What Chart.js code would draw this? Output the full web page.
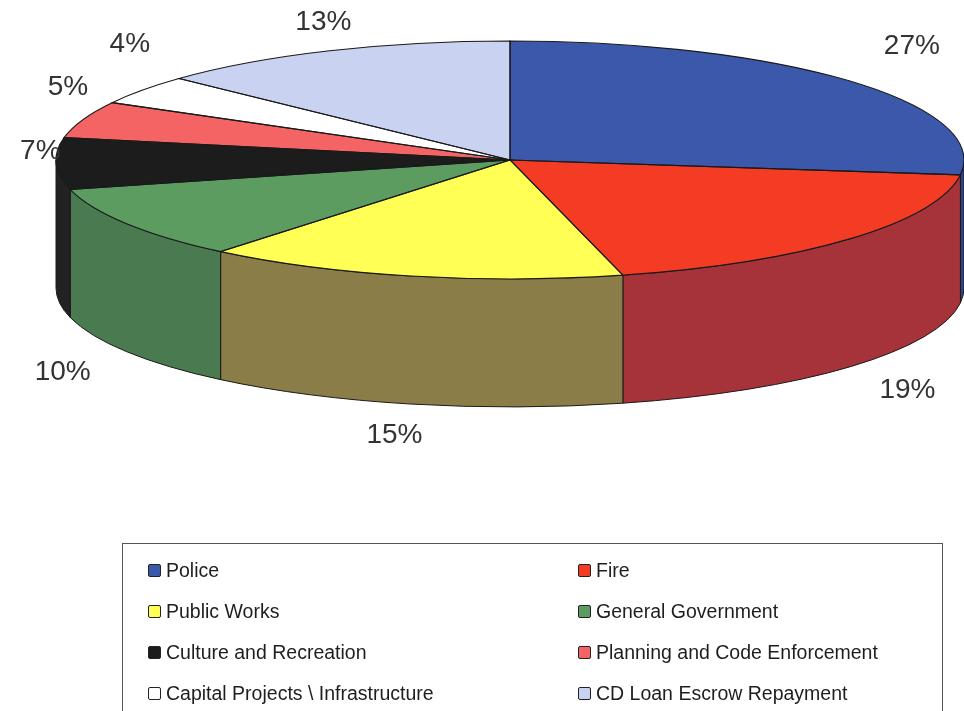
<!DOCTYPE html>
<html>
<head>
<meta charset="utf-8">
<title>General Fund Expenditures</title>
<script src="https://cdn.jsdelivr.net/npm/chart.js@4.4.1/dist/chart.umd.min.js"></script>
<style>
    html, body { margin: 0; padding: 0; background: #fff; overflow: hidden; }
    #wrap { position: relative; width: 964px; height: 711px; }
    #legend {
        position: absolute; left: 122px; top: 543px; width: 821px; height: 200px;
        border: 1px solid #555; box-sizing: border-box;
        display: grid; grid-template-columns: 430px 1fr; grid-auto-rows: 41px;
        padding: 6px 0 0 25px;
        font-family: "Liberation Sans", Arial, sans-serif; font-size: 19.5px; color: #1e1e1e;
    }
    .item { display: flex; align-items: center; white-space: nowrap; }
    .swatch { width: 11px; height: 11px; border: 1px solid #222; border-radius: 2px; margin-right: 5px; }
</style>
</head>
<body>
<div id="wrap">
    <canvas id="budgetChart" width="964" height="711"></canvas>
    <div id="legend"></div>
</div>
<script>
    const categories = ['Police', 'Fire', 'Public Works', 'General Government',
        'Culture and Recreation', 'Planning and Code Enforcement',
        'Capital Projects \\ Infrastructure', 'CD Loan Escrow Repayment'];
    const shares = [27, 19, 15, 10, 7, 5, 4, 13];

    const topColors = ['#3c58ab', '#f43c25', '#ffff55', '#5c9c60', '#1c1c1c', '#f46464', '#ffffff', '#c9d3f1'];
    const sideColors = ['#2e4488', '#a6333a', '#8b7d48', '#4a7b50', '#222222', '#c04e4e', '#d8d8d8', '#9aa3c0'];

    // turns the flat pie into a tilted disc: side walls first, then the
    // library's arcs squashed into the top ellipse, then outlines and labels
    const pie3d = {
        id: 'pie3d',
        geom(chart, o) {
            const a = chart.chartArea;
            const rx = (a.right - a.left) / 2;
            const ry = rx * o.tilt;
            return { cx: (a.left + a.right) / 2, cy: a.top + ry, rx: rx, ry: ry, depth: rx * o.depth };
        },
        beforeDatasetsDraw(chart, args, o) {
            const g = this.geom(chart, o);
            const ctx = chart.ctx;
            const arcs = chart.getDatasetMeta(0).data;

            arcs.forEach((arc, i) => {
                // only the front half of the rim is visible
                const a0 = Math.max(arc.startAngle, 0);
                const a1 = Math.min(arc.endAngle, Math.PI);
                if (a1 <= a0) return;
                ctx.beginPath();
                ctx.ellipse(g.cx, g.cy, g.rx, g.ry, 0, a0, a1);
                ctx.ellipse(g.cx, g.cy + g.depth, g.rx, g.ry, 0, a1, a0, true);
                ctx.closePath();
                ctx.fillStyle = sideColors[i];
                ctx.fill();
                ctx.lineWidth = 1;
                ctx.strokeStyle = o.edge;
                ctx.stroke();
            });

            const r = arcs[0].outerRadius;
            ctx.save();
            ctx.translate(g.cx, g.cy);
            ctx.scale(g.rx / r, g.ry / r);
            ctx.translate(-arcs[0].x, -arcs[0].y);
        },
        afterDatasetsDraw(chart, args, o) {
            const ctx = chart.ctx;
            ctx.restore();
            const g = this.geom(chart, o);
            const arcs = chart.getDatasetMeta(0).data;
            const values = chart.data.datasets[0].data;
            const total = values.reduce((s, v) => s + v, 0);

            ctx.lineWidth = 1.1;
            ctx.strokeStyle = o.edge;
            arcs.forEach(arc => {
                ctx.beginPath();
                ctx.moveTo(g.cx, g.cy);
                ctx.ellipse(g.cx, g.cy, g.rx, g.ry, 0, arc.startAngle, arc.endAngle);
                ctx.closePath();
                ctx.stroke();
            });

            ctx.font = o.labelFont;
            ctx.fillStyle = o.labelColor;
            ctx.textAlign = 'center';
            ctx.textBaseline = 'middle';
            arcs.forEach((arc, i) => {
                const mid = (arc.startAngle + arc.endAngle) / 2;
                const ux = Math.cos(mid), uy = Math.sin(mid);
                const text = Math.round(values[i] / total * 100) + '%';
                let x, y;
                if (uy > 0.2) {
                    // front slices: label goes below the rim
                    x = g.cx + g.rx * 1.167 * ux;
                    y = g.cy + g.ry * 1.2 * uy + g.depth + 8;
                } else {
                    // labels on the back left sit a little closer in and higher
                    x = g.cx + g.rx * (ux > 0 ? 1.18 : 1.035) * ux;
                    y = g.cy + g.ry * 1.45 * uy - (ux < 0 ? 14 : 0);
                }
                const hw = ctx.measureText(text).width / 2;
                x = Math.min(Math.max(x, hw + 2), chart.width - hw - 2);
                y = Math.max(y, 22);
                ctx.fillText(text, x, y);
            });
        }
    };

    const ctx = document.getElementById('budgetChart').getContext('2d');
    const chart = new Chart(ctx, {
        type: 'pie',
        data: {
            labels: categories,
            datasets: [{
                data: shares,
                backgroundColor: topColors,
                borderWidth: 0,
                clip: false
            }]
        },
        options: {
            responsive: false,
            animation: false,
            events: [],
            layout: { padding: { left: 56, right: 0, top: 41, bottom: 304 } },
            plugins: {
                legend: { display: false },
                tooltip: { enabled: false },
                pie3d: {
                    tilt: 0.262,
                    depth: 0.282,
                    edge: '#1a1a1a',
                    labelFont: '28px "Liberation Sans", Arial, sans-serif',
                    labelColor: '#333'
                }
            }
        },
        plugins: [pie3d]
    });

    // two-column legend box under the pie
    const legend = document.getElementById('legend');
    categories.forEach((name, i) => {
        const item = document.createElement('div');
        item.className = 'item';
        const sw = document.createElement('span');
        sw.className = 'swatch';
        sw.style.background = topColors[i];
        item.appendChild(sw);
        item.appendChild(document.createTextNode(name));
        legend.appendChild(item);
    });
</script>
</body>
</html>
